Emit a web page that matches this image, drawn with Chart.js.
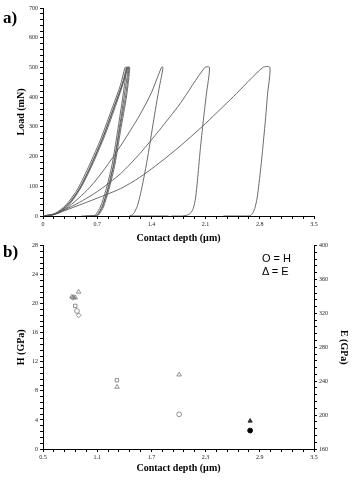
<!DOCTYPE html>
<html>
<head>
<meta charset="utf-8">
<script src="https://cdn.jsdelivr.net/npm/chart.js@4.4.1/dist/chart.umd.min.js"></script>
<style>
body{margin:0;background:#fff;width:358px;height:483px;position:relative;overflow:hidden}
canvas{position:absolute;left:0}
#ca{top:0}
#cb{top:240px}
.lab{position:absolute;font-family:'Liberation Serif',serif;font-weight:bold;font-size:17px;line-height:17px}
.key{position:absolute;left:262px;font-family:'Liberation Sans',Arial,sans-serif;font-size:11px;line-height:13px;color:#000}
</style>
</head>
<body>
<canvas id="ca" width="358" height="245"></canvas>
<canvas id="cb" width="358" height="243"></canvas>
<div class="lab" style="left:3px;top:9px">a)</div>
<div class="lab" style="left:3px;top:243px">b)</div>
<div class="key" style="top:252px">O = H<br>&Delta; = E</div>
<script>
// a) load - depth curves, one array pair per indent (loading, hold, unloading, tail)
const depthA = [0,0.15,0.3,0.45,0.6,0.75,0.9,1.0,1.06,1.08,1.03,0.96,0.89,0.81,0.74,0.69,0.66,0.5]
const loadA  = [0,8,38,92,172,262,368,440,500,500,400,280,170,85,30,8,0,0]
const depthB = [0,0.17,0.32,0.47,0.62,0.77,0.92,1.02,1.08,1.1,1.05,0.98,0.91,0.83,0.76,0.71,0.68,0.55]
const loadB  = [0,8,38,92,172,262,368,440,500,500,405,285,172,86,30,8,0,0]
const depthC = [0,0.2,0.35,0.5,0.65,0.8,0.95,1.04,1.09,1.11,1.07,0.99,0.92,0.84,0.77,0.72,0.69,0.6]
const loadC  = [0,10,42,100,180,272,380,450,500,500,410,290,180,90,32,8,0,0]
const depthD = [0,0.18,0.33,0.48,0.63,0.78,0.93,1.03,1.1,1.12,1.08,1.0,0.93,0.85,0.78,0.73,0.7,0.62]
const loadD  = [0,10,40,95,175,268,375,448,500,500,405,285,175,88,30,8,0,0]
const depthE = [0,0.1,0.3,0.6,0.8,1.0,1.25,1.4,1.53,1.55,1.5,1.45,1.4,1.35,1.3,1.26,1.22,1.18,1.15,1.12,1.62]
const loadE  = [0,2,25,95,160,235,340,415,500,500,430,355,275,195,125,75,35,12,3,0,0]
const depthF = [0,0.1,0.4,0.7,1.0,1.25,1.5,1.77,2.09,2.15,2.11,2.07,2.03,1.995,1.97,1.94,1.9,1.85,1.79,1.66]
const loadF  = [0,2,36,82,142,210,288,378,500,500,410,320,220,120,60,25,8,2,0,0]
const depthG = [0,0.1,0.4,0.7,1.0,1.25,1.51,1.77,2.06,2.46,2.84,2.93,2.9,2.875,2.85,2.82,2.79,2.765,2.735,2.705,2.68,2.65,2.33]
const loadG  = [0,1,30,60,92,130,180,235,302,402,500,500,410,330,260,180,110,60,25,8,2,0,0]

// b) hardness and modulus vs contact depth
const hDepth  = [0.83,0.857,0.876,0.895,1.318,2.007]
const hValue  = [20.8,19.7,19.0,18.4,9.46,4.77]
const hStyle  = ['rectRot','rect','circle','rectRot','rect','circle']
const hDepthFilled = [2.793]
const hValueFilled = [2.54]
const eDepth  = [0.82,0.857,0.894,0.84,1.32,2.007]
const eValue  = [339.6,338.5,345.4,339,233.2,247.7]
const eDepthFilled = [2.793]
const eValueFilled = [193.1]

const xTicksA = [0,0.7,1.4,2.1,2.8,3.5]
const yTicksA = [0,100,200,300,400,500,600,700]
const xTicksB = [0.5,1.1,1.7,2.3,2.9,3.5]
const hTicks = [0,4,8,12,16,20,24,28]
const eTicks = [160,200,240,280,320,360,400]

const pts = (xs, ys) => xs.map((x,i) => ({x: x, y: ys[i]}))
const isMajor = (v, list) => list.find(t => Math.abs(t - v) < 1e-6)

const tickFont = {family:'Liberation Serif', size:6}
const titleFont = {family:'Liberation Serif', size:10, weight:'bold'}

function axis(min, max, step, major, extra){
  return Object.assign({
    type:'linear', min:min, max:max,
    border:{display:true, color:'#000', width:1},
    grid:{display:true, drawOnChartArea:false, drawTicks:true, tickLength:3, color:'#000'},
    ticks:{stepSize:step, autoSkip:false, maxRotation:0, padding:2, color:'#222', font:tickFont,
      callback:function(v){ let m = isMajor(v, major); return m === undefined ? '' : String(m) }}
  }, extra)
}

const curveColor = '#5a5a5a'
const curves = [[depthA,loadA],[depthB,loadB],[depthC,loadC],[depthD,loadD],[depthE,loadE],[depthF,loadF],[depthG,loadG]]

new Chart(document.getElementById('ca'), {
  type:'line',
  data:{datasets: curves.map(c => ({
    data: pts(c[0], c[1]), borderColor: curveColor, borderWidth: 0.9,
    pointRadius: 0, tension: 0.25, fill: false
  }))},
  options:{
    responsive:false, animation:false, devicePixelRatio:1,
    layout:{padding:{top:8, right:44, left:0, bottom:0}},
    plugins:{legend:{display:false}, tooltip:{enabled:false}},
    scales:{
      x: axis(0, 3.5, 0.14, xTicksA, {
        title:{display:true, text:'Contact depth (µm)', font:titleFont, color:'#000', padding:{top:0, bottom:1}},
        afterFit: s => { s.height = 29 }
      }),
      y: axis(0, 700, 20, yTicksA, {
        title:{display:true, text:'Load (mN)', font:titleFont, color:'#000', padding:{top:15, bottom:0}},
        afterFit: s => { s.width = 43 }
      })
    }
  }
})

const openStyle = {backgroundColor:'rgba(255,255,255,0)', borderColor:'#777', borderWidth:0.8}
new Chart(document.getElementById('cb'), {
  type:'scatter',
  data:{datasets:[
    Object.assign({data: pts(hDepth, hValue), pointStyle: hStyle, pointRadius: 2.4, yAxisID:'y'}, openStyle),
    {data: pts(hDepthFilled, hValueFilled), pointStyle:'circle', pointRadius:2.4, backgroundColor:'#000', borderColor:'#000', yAxisID:'y'},
    Object.assign({data: pts(eDepth, eValue), pointStyle:'triangle', pointRadius: 2.6, yAxisID:'yE'}, openStyle),
    {data: pts(eDepthFilled, eValueFilled), pointStyle:'triangle', pointRadius:2.4, backgroundColor:'#333', borderColor:'#333', yAxisID:'yE'}
  ]},
  options:{
    responsive:false, animation:false, devicePixelRatio:1,
    layout:{padding:{top:4, right:0, left:0, bottom:0}},
    plugins:{legend:{display:false}, tooltip:{enabled:false}},
    scales:{
      x: axis(0.5, 3.5, 0.12, xTicksB, {
        title:{display:true, text:'Contact depth (µm)', font:titleFont, color:'#000', padding:{top:0, bottom:9}},
        afterFit: s => { s.height = 34 }
      }),
      y: axis(0, 28, 0.8, hTicks, {
        position:'left',
        title:{display:true, text:'H (GPa)', font:titleFont, color:'#000', padding:{top:15, bottom:0}},
        afterFit: s => { s.width = 43 }
      }),
      yE: axis(160, 400, 8, eTicks, {
        position:'right',
        title:{display:true, text:'E (GPa)', font:titleFont, color:'#000', padding:{top:8, bottom:0}},
        afterFit: s => { s.width = 44 }
      })
    }
  }
})
</script>
</body>
</html>
